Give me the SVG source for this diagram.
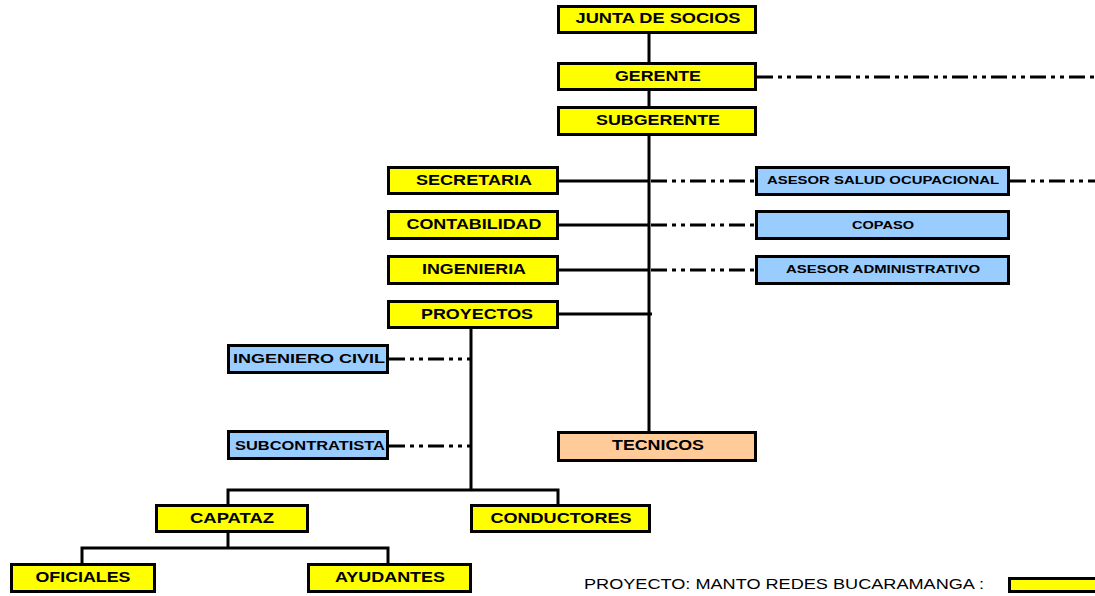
<svg xmlns="http://www.w3.org/2000/svg" width="1095" height="596" viewBox="0 0 1095 596">
<style>
.b{stroke:#000;stroke-width:3}
.y{fill:#FFFF00}
.bl{fill:#99CCFF}
.o{fill:#FFCC99}
text{font-family:"Liberation Sans",Arial,sans-serif;font-weight:bold;fill:#000;text-anchor:middle}
.t14{font-size:14px}
.t13{font-size:13px}
.t11{font-size:11px}
.ln{stroke:#000;stroke-width:3;fill:none}
.dd{stroke:#000;stroke-width:3;fill:none;stroke-dasharray:16 5 4 5 4 5}
</style>
<rect width="1095" height="596" fill="#fff"/>
<g id="connectors">
<line class="ln" x1="649" y1="34" x2="649" y2="431"/>
<line class="ln" x1="559" y1="181" x2="649" y2="181"/>
<line class="ln" x1="559" y1="225" x2="649" y2="225"/>
<line class="ln" x1="559" y1="270" x2="649" y2="270"/>
<line class="ln" x1="559" y1="314" x2="652" y2="314"/>
<line class="dd" x1="651" y1="181" x2="755" y2="181"/>
<line class="dd" x1="651" y1="225" x2="755" y2="225"/>
<line class="dd" x1="651" y1="270" x2="755" y2="270"/>
<line class="dd" x1="757" y1="77" x2="1095" y2="77"/>
<line class="dd" x1="1010" y1="181" x2="1095" y2="181"/>
<line class="ln" x1="471" y1="329" x2="471" y2="490"/>
<line class="dd" x1="389" y1="359" x2="470" y2="359"/>
<line class="dd" x1="389" y1="446" x2="470" y2="446"/>
<polyline class="ln" points="228,504 228,490 558,490 558,504"/>
<line class="ln" x1="228" y1="533" x2="228" y2="548"/>
<polyline class="ln" points="82,563 82,548 388,548 388,563"/>
</g>
<g id="junta"><rect class="b y" x="558.5" y="6.5" width="197" height="26"/><text class="t14" x="658" y="23" textLength="165" lengthAdjust="spacingAndGlyphs">JUNTA DE SOCIOS</text></g>
<g id="gerente"><rect class="b y" x="558.5" y="63.5" width="197" height="26"/><text class="t14" x="658" y="81" textLength="86" lengthAdjust="spacingAndGlyphs">GERENTE</text></g>
<g id="subgerente"><rect class="b y" x="558.5" y="107.5" width="197" height="27"/><text class="t14" x="658" y="125" textLength="124" lengthAdjust="spacingAndGlyphs">SUBGERENTE</text></g>
<g id="secretaria"><rect class="b y" x="388.5" y="167.5" width="169" height="26"/><text class="t14" x="474" y="185" textLength="116" lengthAdjust="spacingAndGlyphs">SECRETARIA</text></g>
<g id="contabilidad"><rect class="b y" x="388.5" y="211.5" width="169" height="27"/><text class="t14" x="474" y="229" textLength="135" lengthAdjust="spacingAndGlyphs">CONTABILIDAD</text></g>
<g id="ingenieria"><rect class="b y" x="388.5" y="256.5" width="169" height="27"/><text class="t14" x="474" y="274" textLength="104" lengthAdjust="spacingAndGlyphs">INGENIERIA</text></g>
<g id="proyectos"><rect class="b y" x="388.5" y="301.5" width="169" height="26"/><text class="t14" x="477" y="319" textLength="112" lengthAdjust="spacingAndGlyphs">PROYECTOS</text></g>
<g id="asesor-salud"><rect class="b bl" x="756.5" y="167.5" width="252" height="27"/><text class="t11" x="883" y="184" textLength="232" lengthAdjust="spacingAndGlyphs">ASESOR SALUD OCUPACIONAL</text></g>
<g id="copaso"><rect class="b bl" x="756.5" y="211.5" width="252" height="27"/><text class="t11" x="883" y="229" textLength="62" lengthAdjust="spacingAndGlyphs">COPASO</text></g>
<g id="asesor-admin"><rect class="b bl" x="756.5" y="256.5" width="252" height="27"/><text class="t11" x="883" y="273" textLength="194" lengthAdjust="spacingAndGlyphs">ASESOR ADMINISTRATIVO</text></g>
<g id="ingeniero-civil"><rect class="b bl" x="228.5" y="345.5" width="159" height="27"/><text class="t13" x="309" y="363" textLength="152" lengthAdjust="spacingAndGlyphs">INGENIERO CIVIL</text></g>
<g id="subcontratista"><rect class="b bl" x="228.5" y="431.5" width="159" height="27"/><text class="t13" x="310" y="450" textLength="150" lengthAdjust="spacingAndGlyphs">SUBCONTRATISTA</text></g>
<g id="tecnicos"><rect class="b o" x="558.5" y="432.5" width="197" height="28"/><text class="t14" x="658" y="450" textLength="92" lengthAdjust="spacingAndGlyphs">TECNICOS</text></g>
<g id="capataz"><rect class="b y" x="156.5" y="505.5" width="151" height="26"/><text class="t14" x="232" y="523" textLength="84" lengthAdjust="spacingAndGlyphs">CAPATAZ</text></g>
<g id="conductores"><rect class="b y" x="471.5" y="505.5" width="178" height="26"/><text class="t14" x="561" y="523" textLength="141" lengthAdjust="spacingAndGlyphs">CONDUCTORES</text></g>
<g id="oficiales"><rect class="b y" x="11.5" y="564.5" width="143" height="27"/><text class="t14" x="83" y="582" textLength="95" lengthAdjust="spacingAndGlyphs">OFICIALES</text></g>
<g id="ayudantes"><rect class="b y" x="308.5" y="564.5" width="162" height="27"/><text class="t14" x="390" y="582" textLength="110" lengthAdjust="spacingAndGlyphs">AYUDANTES</text></g>
<g id="legend">
<text x="584" y="589" style="font-weight:normal;text-anchor:start;font-size:14px" textLength="400" lengthAdjust="spacingAndGlyphs">PROYECTO: MANTO REDES BUCARAMANGA :</text>
<rect class="b y" x="1009.5" y="578.5" width="90" height="13"/>
</g>
</svg>
